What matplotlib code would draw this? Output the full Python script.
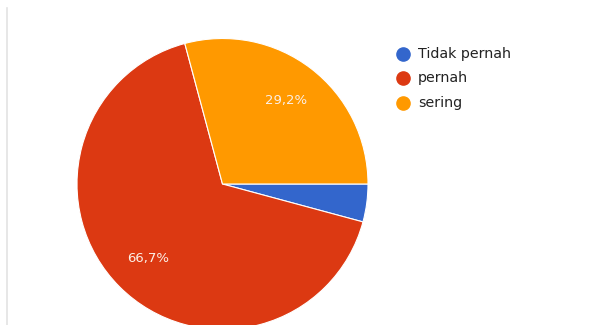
import numpy as np
import matplotlib.pyplot as plt
from matplotlib.lines import Line2D

labels = ["Tidak pernah", "pernah", "sering"]
values = [4.2, 66.7, 29.2]
colors = ["#3366CC", "#DC3912", "#FF9900"]

W, H = 592, 325
fig = plt.figure(figsize=(W / 100, H / 100), dpi=100)
fig.patch.set_facecolor("white")

# pie centre and radius in pixels
cx, cy, r = 222.5, 184, 145.5
ax = fig.add_axes([(cx - r) / W, (H - cy - r) / H, 2 * r / W, 2 * r / H])
wedges, _ = ax.pie(values, colors=colors, startangle=0, counterclock=False,
                   wedgeprops=dict(edgecolor="white", linewidth=0.8), radius=1)
ax.set_xlim(-1, 1)
ax.set_ylim(-1, 1)
ax.set_aspect("equal")
ax.axis("off")

# percentage labels (only the big slices)
for v, w in zip(values, wedges):
    mid = np.deg2rad((w.theta1 + w.theta2) / 2)
    if v > 10:
        ax.text(0.72 * np.cos(mid), 0.72 * np.sin(mid), f"{v:.1f}%".replace(".", ","),
                color="#FBEFE6", fontsize=9.5, ha="center", va="center")

# legend
for i, (lab, c) in enumerate(zip(labels, colors)):
    y = 1 - (54 + i * 24.5) / H
    fig.add_artist(Line2D([403 / W], [y], marker="o", markersize=9.5,
                          color=c, transform=fig.transFigure))
    fig.text(418 / W, y, lab, fontsize=10.3, color="#222222", va="center", ha="left")

# thin grey border on the left
fig.add_artist(Line2D([7 / W, 7 / W], [0, 1 - 8 / H], color="#E3E3E3",
                      linewidth=1.2, transform=fig.transFigure))

fig.savefig("out.png", dpi=100)
